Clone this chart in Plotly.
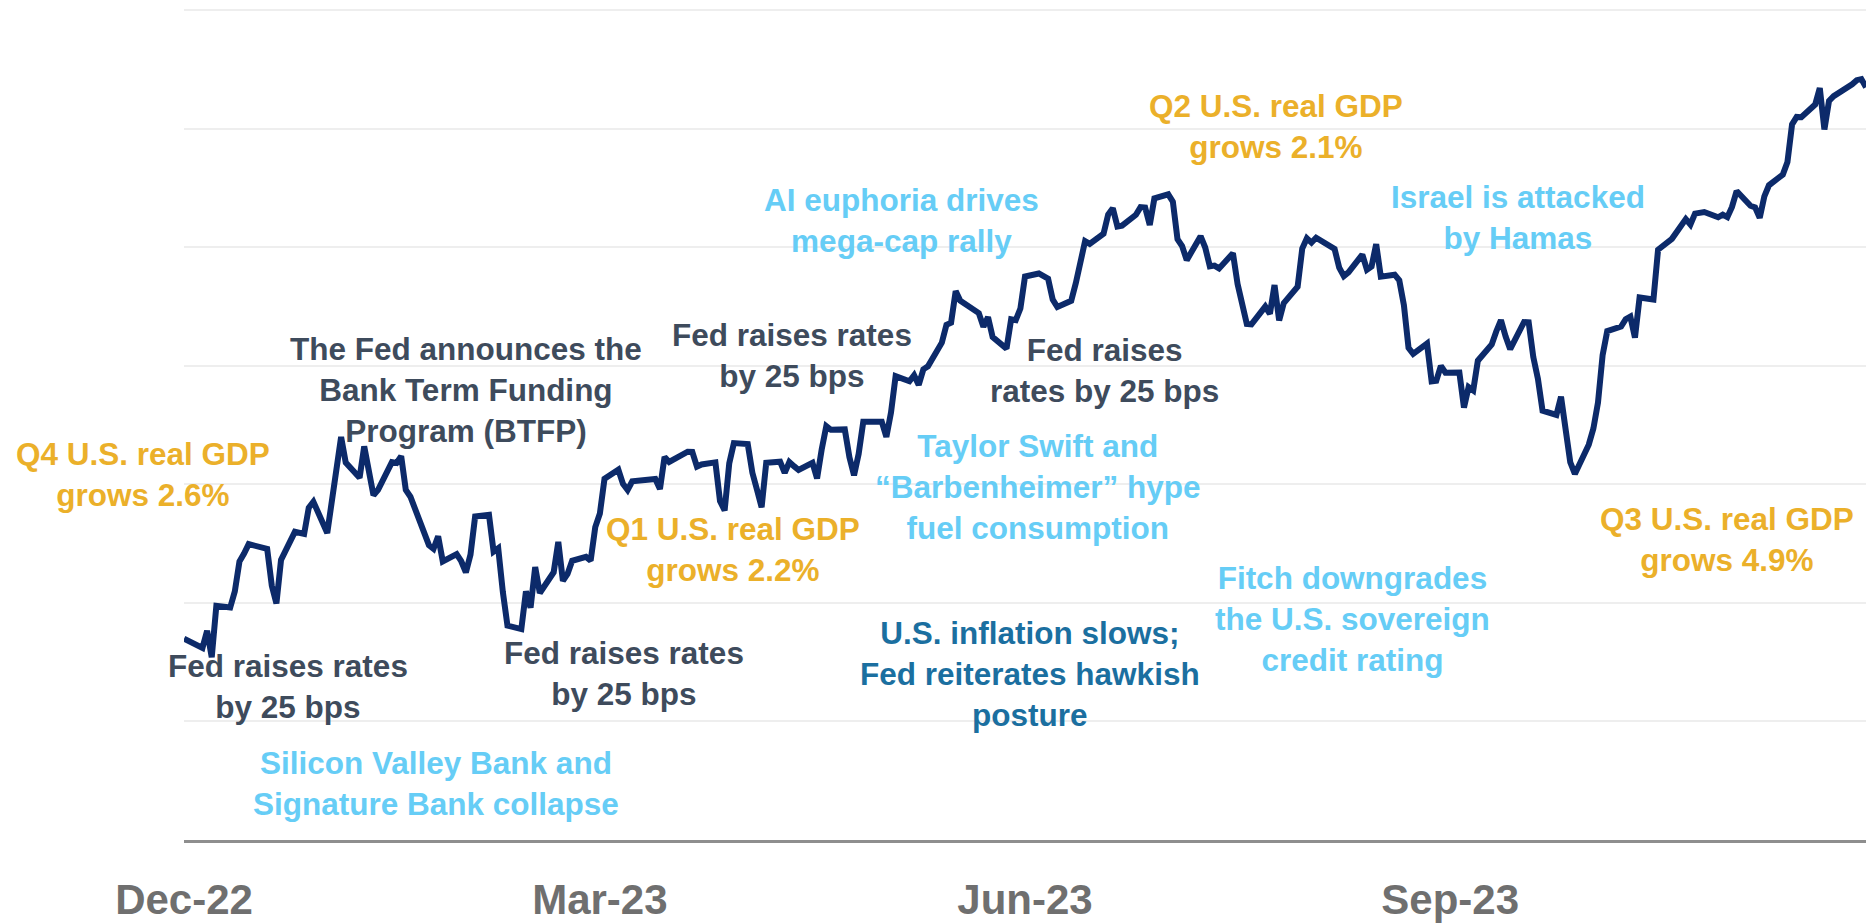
import plotly.graph_objects as go

dates = [
"2022-12-30",
"2023-01-03","2023-01-04","2023-01-05","2023-01-06","2023-01-09","2023-01-10","2023-01-11","2023-01-12","2023-01-13",
"2023-01-17","2023-01-18","2023-01-19","2023-01-20","2023-01-23","2023-01-24","2023-01-25","2023-01-26","2023-01-27",
"2023-01-30","2023-01-31","2023-02-01","2023-02-02","2023-02-03","2023-02-06","2023-02-07","2023-02-08","2023-02-09",
"2023-02-10","2023-02-13","2023-02-14","2023-02-15","2023-02-16","2023-02-17","2023-02-21","2023-02-22","2023-02-23",
"2023-02-24","2023-02-27","2023-02-28","2023-03-01","2023-03-02","2023-03-03","2023-03-06","2023-03-07","2023-03-08",
"2023-03-09","2023-03-10","2023-03-13","2023-03-14","2023-03-15","2023-03-16","2023-03-17","2023-03-20","2023-03-21",
"2023-03-22","2023-03-23","2023-03-24","2023-03-27","2023-03-28","2023-03-29","2023-03-30","2023-03-31","2023-04-03",
"2023-04-04","2023-04-05","2023-04-06","2023-04-10","2023-04-11","2023-04-12","2023-04-13","2023-04-14","2023-04-17",
"2023-04-18","2023-04-19","2023-04-20","2023-04-21","2023-04-24","2023-04-25","2023-04-26","2023-04-27","2023-04-28",
"2023-05-01","2023-05-02","2023-05-03","2023-05-04","2023-05-05","2023-05-08","2023-05-09","2023-05-10","2023-05-11",
"2023-05-12","2023-05-15","2023-05-16","2023-05-17","2023-05-18","2023-05-19","2023-05-22","2023-05-23","2023-05-24",
"2023-05-25","2023-05-26","2023-05-30","2023-05-31","2023-06-01","2023-06-02","2023-06-05","2023-06-06","2023-06-07",
"2023-06-08","2023-06-09","2023-06-12","2023-06-13","2023-06-14","2023-06-15","2023-06-16","2023-06-20","2023-06-21",
"2023-06-22","2023-06-23","2023-06-26","2023-06-27","2023-06-28","2023-06-29","2023-06-30","2023-07-03","2023-07-05",
"2023-07-06","2023-07-07","2023-07-10","2023-07-11","2023-07-12","2023-07-13","2023-07-14","2023-07-17","2023-07-18",
"2023-07-19","2023-07-20","2023-07-21","2023-07-24","2023-07-25","2023-07-26","2023-07-27","2023-07-28","2023-07-31",
"2023-08-01","2023-08-02","2023-08-03","2023-08-04","2023-08-07","2023-08-08","2023-08-09","2023-08-10","2023-08-11",
"2023-08-14","2023-08-15","2023-08-16","2023-08-17","2023-08-18","2023-08-21","2023-08-22","2023-08-23","2023-08-24",
"2023-08-25","2023-08-28","2023-08-29","2023-08-30","2023-08-31","2023-09-01","2023-09-05","2023-09-06","2023-09-07",
"2023-09-08","2023-09-11","2023-09-12","2023-09-13","2023-09-14","2023-09-15","2023-09-18","2023-09-19","2023-09-20",
"2023-09-21","2023-09-22","2023-09-25","2023-09-26","2023-09-27","2023-09-28","2023-09-29","2023-10-02","2023-10-03",
"2023-10-04","2023-10-05","2023-10-06","2023-10-09","2023-10-10","2023-10-11","2023-10-12","2023-10-13","2023-10-16",
"2023-10-17","2023-10-18","2023-10-19","2023-10-20","2023-10-23","2023-10-24","2023-10-25","2023-10-26","2023-10-27",
"2023-10-30","2023-10-31","2023-11-01","2023-11-02","2023-11-03","2023-11-06","2023-11-07","2023-11-08","2023-11-09",
"2023-11-10","2023-11-13","2023-11-14","2023-11-15","2023-11-16","2023-11-17","2023-11-20","2023-11-21","2023-11-22",
"2023-11-24","2023-11-27","2023-11-28","2023-11-29","2023-11-30","2023-12-01","2023-12-04","2023-12-05","2023-12-06",
"2023-12-07","2023-12-08","2023-12-11","2023-12-12","2023-12-13","2023-12-14","2023-12-15","2023-12-18","2023-12-19",
"2023-12-20","2023-12-21","2023-12-22","2023-12-26","2023-12-27","2023-12-28","2023-12-29",
]

index_level = [
3839.5,
3824.1,3853.0,3808.1,3895.1,3892.1,3919.3,3969.6,3983.2,3999.1,
3991.0,3928.9,3898.9,3972.6,4019.8,4017.0,4016.2,4060.4,4070.6,
4017.8,4076.6,4119.2,4179.8,4136.5,4111.1,4164.0,4117.9,4081.5,
4090.5,4137.3,4136.1,4147.6,4090.4,4079.1,3997.3,3991.1,4012.3,
3970.0,3982.2,3970.2,3951.4,3981.4,4045.6,4048.4,3986.4,3992.0,
3918.3,3861.6,3855.8,3919.3,3891.9,3960.3,3916.6,3951.6,4002.9,
3937.0,3948.7,3971.0,3977.5,3971.3,4027.8,4050.8,4109.3,4124.5,
4100.6,4090.4,4105.0,4109.1,4108.9,4092.0,4146.2,4137.6,4151.3,
4154.9,4154.5,4129.8,4133.5,4137.0,4071.6,4056.0,4135.4,4169.5,
4167.9,4119.6,4090.8,4061.2,4136.3,4138.1,4119.2,4137.6,4130.6,
4124.1,4136.3,4109.9,4158.8,4198.1,4192.0,4192.6,4145.6,4115.2,
4151.3,4205.5,4205.5,4179.8,4221.0,4282.4,4273.8,4283.9,4267.5,
4293.9,4298.9,4338.9,4369.0,4372.6,4425.8,4409.6,4388.7,4365.7,
4381.9,4348.3,4328.8,4378.4,4376.9,4396.4,4450.4,4455.6,4446.8,
4411.6,4399.0,4409.5,4439.3,4472.2,4510.0,4505.4,4522.8,4555.0,
4565.7,4534.9,4536.3,4554.6,4567.5,4566.8,4537.4,4582.2,4589.0,
4576.7,4513.4,4501.9,4478.0,4518.4,4499.4,4467.7,4468.8,4464.1,
4489.7,4437.9,4404.3,4370.4,4369.7,4399.8,4387.6,4436.0,4376.3,
4405.7,4433.3,4497.6,4514.9,4507.7,4515.8,4496.8,4465.5,4451.1,
4457.5,4487.5,4461.9,4467.4,4505.1,4450.3,4453.5,4444.0,4402.2,
4330.0,4320.1,4337.4,4273.5,4274.5,4299.7,4288.1,4288.4,4229.5,
4263.8,4258.2,4308.5,4335.7,4358.2,4377.0,4349.6,4327.8,4373.6,
4373.2,4314.6,4278.0,4224.2,4217.0,4247.7,4186.8,4137.2,4117.4,
4166.8,4193.8,4237.9,4317.8,4358.3,4366.0,4378.4,4382.8,4347.4,
4415.2,4411.6,4495.7,4502.9,4508.2,4514.0,4547.4,4538.2,4556.6,
4559.3,4550.4,4554.9,4550.6,4567.8,4594.6,4569.8,4567.2,4549.3,
4585.6,4604.4,4622.4,4643.7,4707.1,4719.6,4719.2,4740.6,4768.4,
4698.4,4746.8,4754.6,4774.8,4781.6,4783.4,4769.8,
]

tick_dates = ["2022-12-30", "2023-03-30", "2023-06-30", "2023-09-30"]
tick_labels = ["Dec-22", "Mar-23", "Jun-23", "Sep-23"]

event_texts = [
    "Q4 U.S. real GDP<br>grows 2.6%",
    "The Fed announces the<br>Bank Term Funding<br>Program (BTFP)",
    "Fed raises rates<br>by 25 bps",
    "Silicon Valley Bank and<br>Signature Bank collapse",
    "Fed raises rates<br>by 25 bps",
    "Q1 U.S. real GDP<br>grows 2.2%",
    "Fed raises rates<br>by 25 bps",
    "AI euphoria drives<br>mega-cap rally",
    "Fed raises<br>rates by 25 bps",
    "Taylor Swift and<br>\u201cBarbenheimer\u201d hype<br>fuel consumption",
    "Q2 U.S. real GDP<br>grows 2.1%",
    "U.S. inflation slows;<br>Fed reiterates hawkish<br>posture",
    "Fitch downgrades<br>the U.S. sovereign<br>credit rating",
    "Israel is attacked<br>by Hamas",
    "Q3 U.S. real GDP<br>grows 4.9%",
]

W, H = 1872, 924
L, R, T, B = 184, 6, 8, 84
# pixel centres of the event labels and their colour kinds
event_pos = [
    (143, 475, "gdp"), (466, 390, "fed"), (288, 686, "fed"), (436, 783, "evt"),
    (624, 673, "fed"), (733, 549, "gdp"), (792, 356, "fed"), (901, 220, "evt"),
    (1104, 370, "fed"), (1038, 487, "evt"), (1276, 126, "gdp"), (1030, 674, "infl"),
    (1352, 619, "evt"), (1518, 217, "evt"), (1727, 539, "gdp"),
]
colors = {"gdp": "#ebb02a", "fed": "#3e4b5c", "evt": "#66cdf6", "infl": "#1b6fa0"}

fig = go.Figure()
fig.add_trace(go.Scatter(
    x=dates, y=index_level, mode="lines",
    line=dict(color="#0c2a6a", width=6),
    hoverinfo="skip", showlegend=False,
))

pw, ph = W - L - R, H - T - B
annotations = []
for text, (px, py, kind) in zip(event_texts, event_pos):
    annotations.append(dict(
        text=text, xref="paper", yref="paper",
        x=(px - L) / pw, y=(H - B - py) / ph,
        xanchor="center", yanchor="middle", showarrow=False, align="center",
        font=dict(family="Liberation Sans", size=31.5, color=colors[kind], weight="bold"),
    ))

y_low, y_grid_top = 3500, 4900
px_per_unit = (ph - 2) / (y_grid_top - y_low)
y_high = y_grid_top + 2 / px_per_unit

fig.update_layout(
    width=W, height=H,
    margin=dict(l=L, r=R, t=T, b=B, autoexpand=False),
    paper_bgcolor="white", plot_bgcolor="white",
    annotations=annotations,
    xaxis=dict(
        type="date", range=["2022-12-30", "2023-12-29"],
        tickvals=tick_dates, ticktext=tick_labels,
        showgrid=False, zeroline=False, automargin=False,
        showline=True, linecolor="#8e8e8e", linewidth=3,
        ticks="", ticklabelstandoff=21,
        tickfont=dict(family="Liberation Sans", size=42, color="#6f6f6f", weight="bold"),
    ),
    yaxis=dict(
        range=[y_low, y_high], tick0=3500, dtick=200, automargin=False,
        showgrid=True, gridcolor="#eeeeee", gridwidth=2,
        showticklabels=False, zeroline=False, ticks="",
    ),
)

fig.write_html(
    "out.html",
    config={"displayModeBar": False},
    post_script="document.body.style.margin='0';document.body.style.overflow='hidden';",
)
